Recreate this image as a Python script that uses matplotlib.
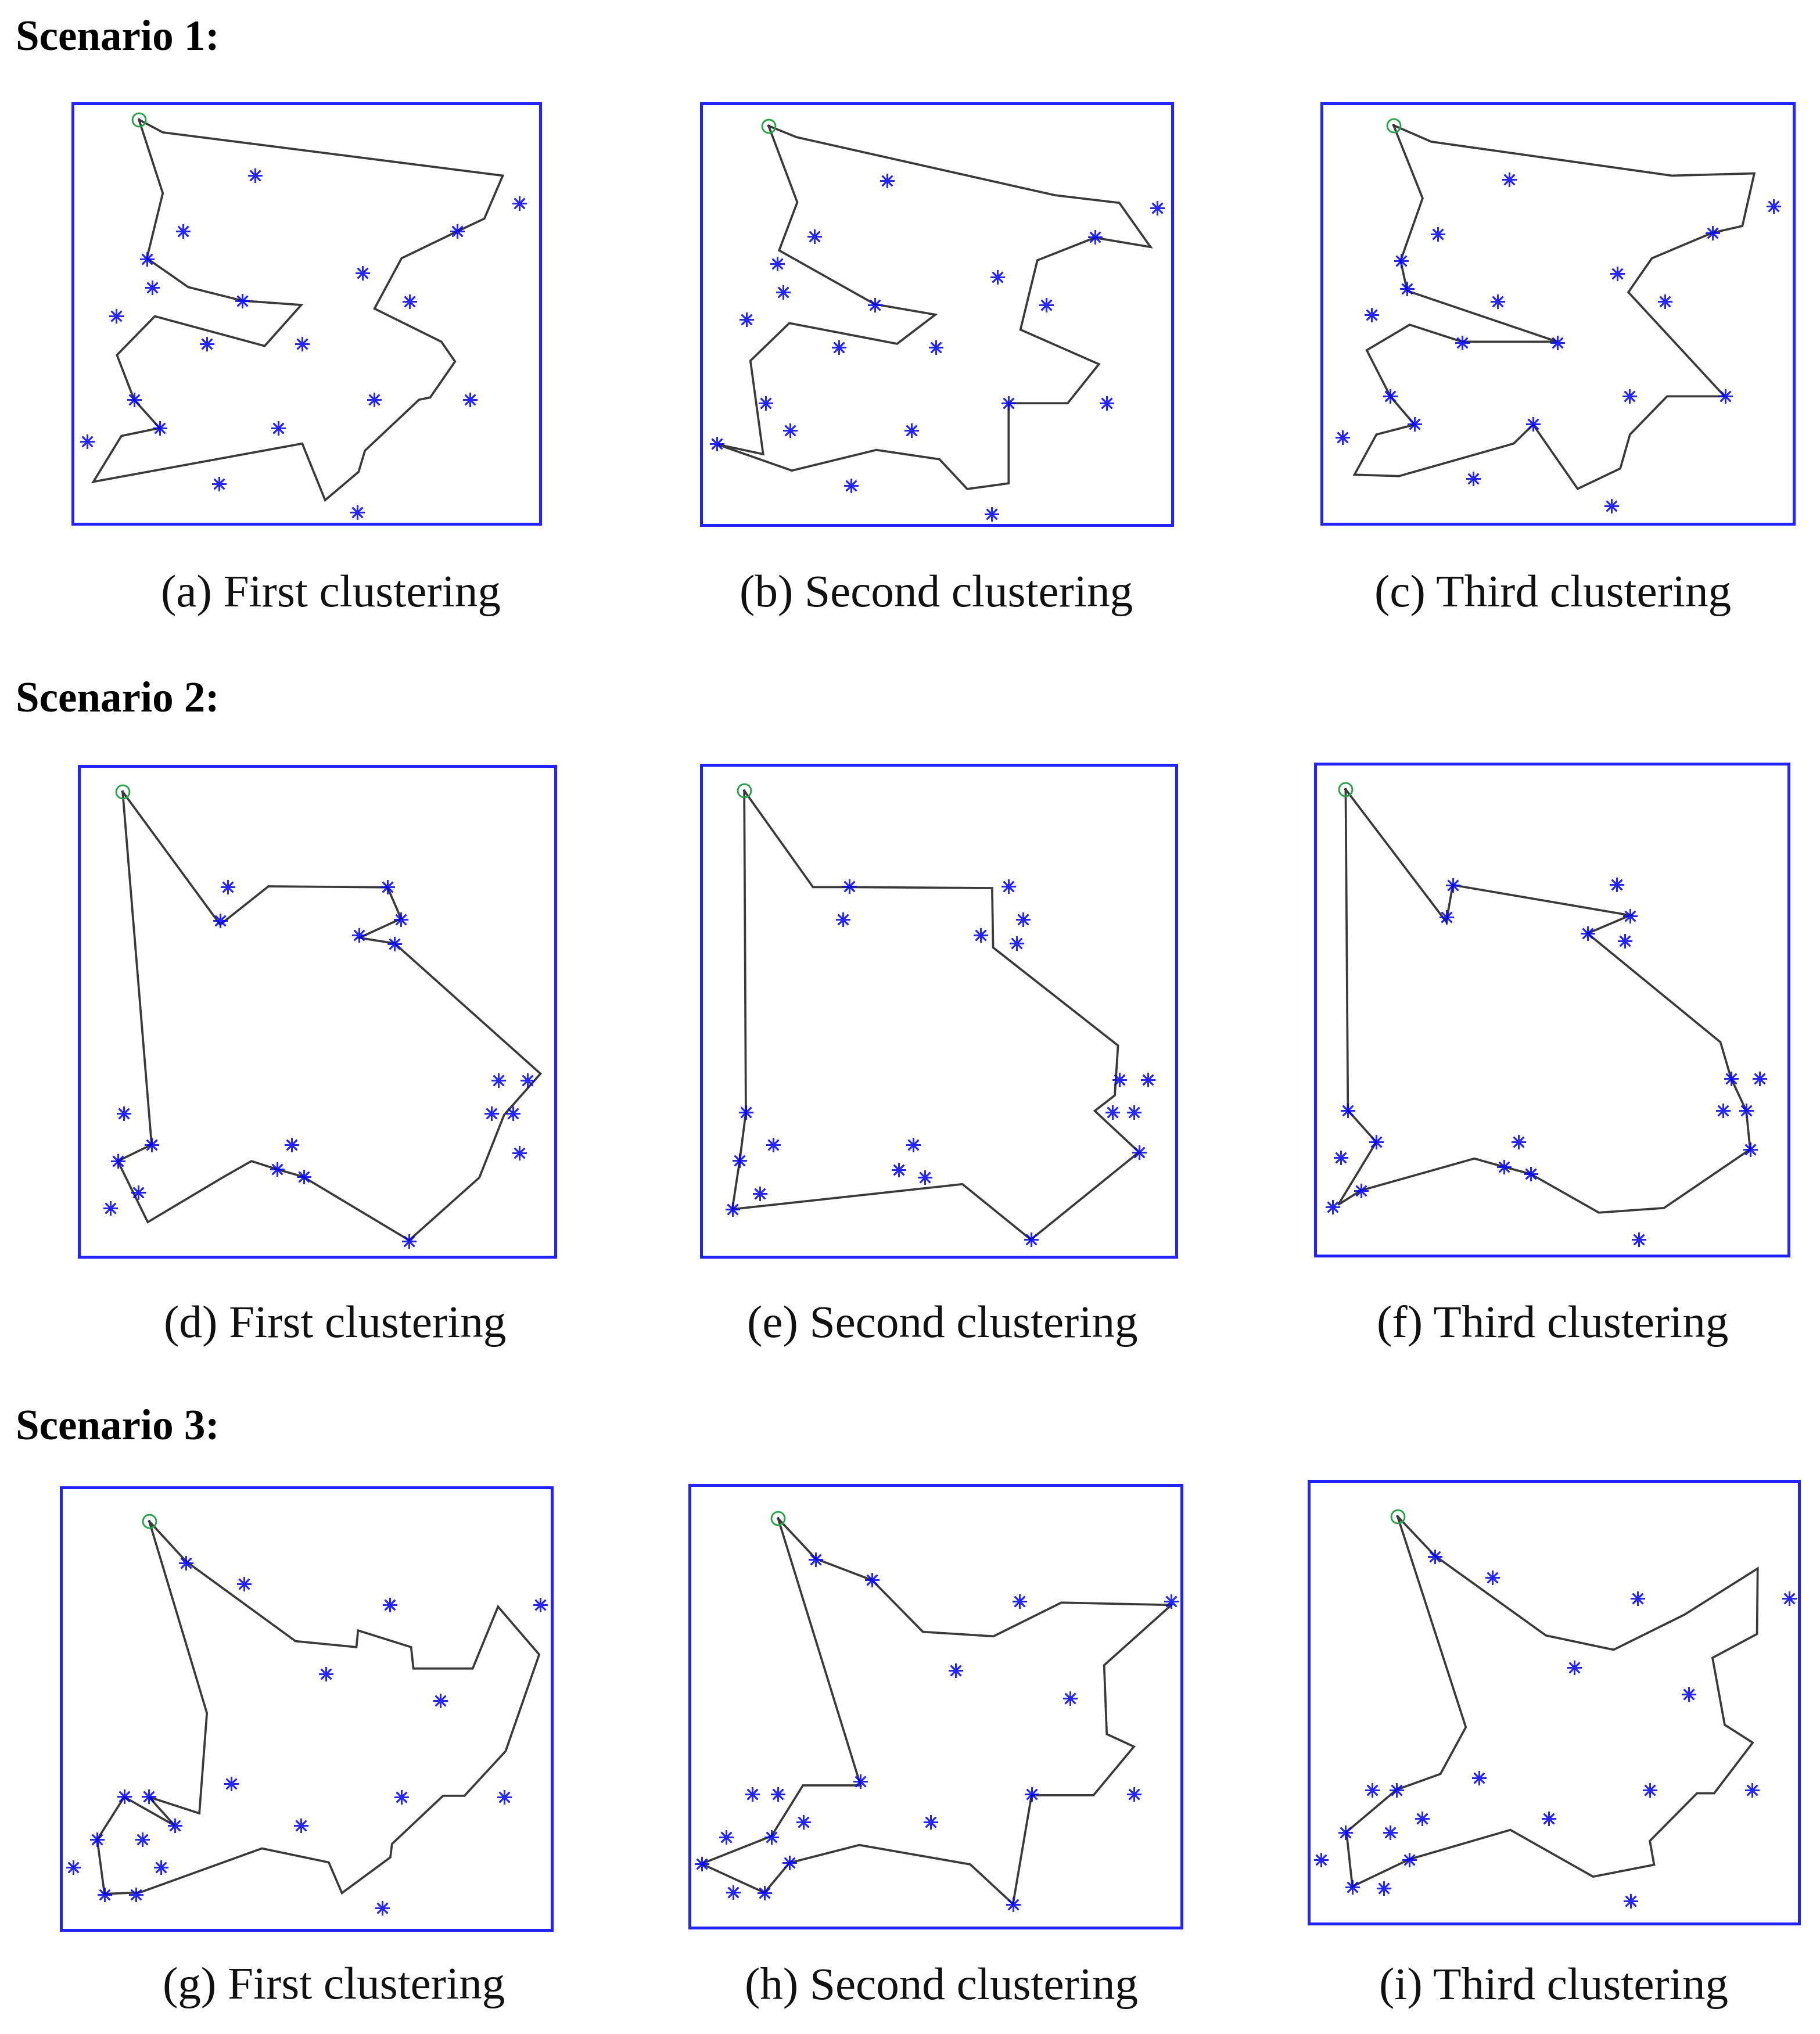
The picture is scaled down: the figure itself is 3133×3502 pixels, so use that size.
import matplotlib.pyplot as plt
import numpy as np

# Coordinates are read off each panel of the picture (x to the right,
# y downwards, in the units of the panel's own frame, see FRAMES below).

# ---- Scenario 1 -----------------------------------------------------------
A_ROUTE = [(255, 100), (330, 145), (1398, 298), (1340, 450), (1255, 495), (1080, 590),
           (995, 768), (1205, 885), (1248, 955), (1170, 1082), (1135, 1090), (965, 1270),
           (945, 1345), (840, 1445), (768, 1245), (112, 1380), (200, 1218), (320, 1190),
           (240, 1090), (186, 932), (305, 795), (650, 900), (765, 755), (580, 740),
           (410, 692), (280, 590), (330, 360)]
A_CUSTOMERS = [(620, 297), (1450, 395), (393, 495), (1255, 495), (280, 592), (957, 643),
               (297, 693), (580, 740), (1105, 742), (183, 793), (468, 892), (768, 892),
               (240, 1090), (993, 1090), (1295, 1090), (320, 1190), (693, 1190), (93, 1238),
               (507, 1388), (940, 1488)]

B_ROUTE = [(262, 120), (350, 160), (1160, 365), (1362, 392), (1460, 548), (1285, 515),
           (1105, 595), (1052, 840), (1298, 962), (1200, 1100), (1015, 1100), (1015, 1383),
           (885, 1403), (798, 1298), (600, 1265), (335, 1338), (100, 1245), (245, 1280),
           (205, 950), (327, 817), (665, 890), (785, 787), (595, 750), (295, 560),
           (352, 390)]
B_CUSTOMERS = [(633, 313), (1480, 410), (405, 510), (1285, 512), (290, 607), (980, 655),
               (307, 707), (595, 752), (1132, 753), (193, 803), (482, 903), (787, 903),
               (253, 1100), (1015, 1100), (1323, 1100), (330, 1195), (710, 1195), (100, 1243),
               (520, 1390), (962, 1492)]

C_ROUTE = [(268, 120), (385, 178), (1130, 298), (1385, 290), (1348, 476), (1255, 500),
           (1068, 590), (995, 710), (1293, 1078), (1115, 1078), (1000, 1213), (970, 1333),
           (838, 1405), (700, 1178), (640, 1245), (285, 1360), (147, 1355), (215, 1213),
           (333, 1178), (258, 1078), (185, 915), (318, 825), (480, 885), (775, 885),
           (310, 705), (290, 598), (358, 378)]
C_CUSTOMERS = [(627, 312), (1445, 405), (405, 505), (1255, 500), (292, 598), (960, 645),
               (310, 697), (590, 743), (1108, 743), (200, 790), (480, 888), (775, 888),
               (258, 1078), (998, 1078), (1295, 1078), (333, 1175), (700, 1175), (110, 1222),
               (515, 1368), (943, 1465)]

# ---- Scenario 2 -----------------------------------------------------------
D_ROUTE = [(180, 115), (483, 518), (633, 402), (1003, 405), (1045, 500), (915, 558),
           (1025, 575), (1478, 970), (1365, 1095), (1288, 1285), (1070, 1475), (740, 1282),
           (660, 1260), (580, 1235), (490, 1285), (258, 1420), (165, 1235), (270, 1185)]
D_CUSTOMERS = [(507, 403), (483, 505), (1003, 403), (1045, 502), (915, 550), (1025, 577),
               (1348, 990), (1437, 990), (1325, 1090), (1393, 1090), (183, 1090), (270, 1185),
               (705, 1185), (1412, 1210), (165, 1235), (660, 1260), (742, 1283), (228, 1330),
               (142, 1378), (1070, 1478)]

E_ROUTE = [(182, 110), (395, 402), (508, 402), (950, 405), (953, 585), (1340, 882),
           (1330, 1033), (1268, 1080), (1405, 1205), (1070, 1470), (858, 1302), (145, 1378),
           (168, 1230), (187, 1085)]
E_CUSTOMERS = [(508, 400), (1000, 400), (488, 500), (1045, 500), (915, 548), (1025, 572),
               (1345, 985), (1433, 985), (1322, 1085), (1390, 1085), (187, 1085), (272, 1182),
               (705, 1182), (1405, 1205), (168, 1230), (660, 1258), (742, 1282), (230, 1330),
               (145, 1378), (1070, 1470)]

F_ROUTE = [(138, 108), (450, 510), (470, 398), (1020, 490), (888, 545), (1300, 875),
           (1333, 985), (1380, 1083), (1392, 1200), (1125, 1378), (923, 1392), (712, 1275),
           (628, 1253), (537, 1228), (185, 1325), (115, 1368), (233, 1178), (145, 1082)]
F_CUSTOMERS = [(470, 398), (978, 397), (450, 495), (1020, 492), (888, 545), (1003, 568),
               (1333, 985), (1422, 985), (1308, 1083), (1380, 1083), (145, 1082), (233, 1178),
               (673, 1178), (1392, 1200), (123, 1225), (628, 1253), (712, 1275), (185, 1325),
               (98, 1375), (1047, 1473)]

# ---- Scenario 3 -----------------------------------------------------------
G_ROUTE = [(313, 155), (425, 290), (757, 558), (942, 578), (947, 522), (1108, 578),
           (1115, 650), (1295, 650), (1372, 442), (1497, 603), (1395, 928), (1270, 1078),
           (1205, 1078), (1050, 1240), (1045, 1285), (898, 1405), (858, 1302), (655, 1255),
           (285, 1403), (177, 1408), (155, 1225), (237, 1082), (390, 1178), (312, 1082),
           (465, 1137), (488, 800)]
G_CUSTOMERS = [(425, 295), (600, 365), (1043, 435), (1500, 435), (850, 668), (1197, 758),
               (562, 1038), (237, 1080), (312, 1080), (1078, 1082), (1390, 1082), (390, 1178),
               (773, 1178), (155, 1225), (292, 1225), (82, 1318), (348, 1318), (177, 1410),
               (272, 1410), (1020, 1455)]

H_ROUTE = [(318, 150), (432, 285), (602, 357), (755, 530), (968, 545), (1173, 432),
           (1505, 440), (1302, 642), (1310, 873), (1392, 915), (1270, 1078), (1083, 1078),
           (1027, 1443), (898, 1310), (563, 1245), (352, 1305), (277, 1405), (87, 1308),
           (298, 1215), (393, 1045), (567, 1045)]
H_CUSTOMERS = [(432, 288), (602, 355), (1047, 428), (1505, 428), (853, 660), (1200, 752),
               (567, 1032), (240, 1075), (317, 1075), (1083, 1075), (1392, 1075), (395, 1168),
               (778, 1168), (162, 1218), (298, 1218), (87, 1308), (352, 1305), (182, 1403),
               (277, 1405), (1027, 1445)]

I_ROUTE = [(310, 160), (423, 292), (760, 560), (965, 608), (1180, 490), (1402, 335),
           (1400, 555), (1265, 635), (1302, 860), (1387, 920), (1270, 1090), (1218, 1090),
           (1075, 1250), (1088, 1330), (903, 1370), (652, 1213), (345, 1312), (173, 1403),
           (155, 1220), (307, 1078), (440, 1025), (517, 868)]
I_CUSTOMERS = [(423, 295), (597, 365), (1038, 435), (1497, 435), (845, 668), (1192, 758),
               (557, 1038), (232, 1080), (307, 1080), (1075, 1080), (1385, 1080), (385, 1175),
               (768, 1175), (152, 1222), (288, 1222), (78, 1313), (345, 1313), (173, 1405),
               (268, 1408), (1017, 1452)]

SCENARIOS = ["Scenario 1:", "Scenario 2:", "Scenario 3:"]
CAPTIONS = ["(a) First clustering", "(b) Second clustering", "(c) Third clustering",
            "(d) First clustering", "(e) Second clustering", "(f) Third clustering",
            "(g) First clustering", "(h) Second clustering", "(i) Third clustering"]

ROUTES = [A_ROUTE, B_ROUTE, C_ROUTE, D_ROUTE, E_ROUTE, F_ROUTE, G_ROUTE, H_ROUTE, I_ROUTE]
CUSTOMERS = [A_CUSTOMERS, B_CUSTOMERS, C_CUSTOMERS, D_CUSTOMERS, E_CUSTOMERS,
             F_CUSTOMERS, G_CUSTOMERS, H_CUSTOMERS, I_CUSTOMERS]

# frame of each panel (x_left, x_right, y_top, y_bottom) in the same units as the data
FRAMES = [(47, 1515, 42, 1528), (50, 1528, 40, 1530), (45, 1508, 42, 1528),
          (45, 1525, 38, 1525), (48, 1520, 32, 1522), (43, 1512, 30, 1522),
          (45, 1535, 42, 1530), (50, 1535, 38, 1522), (40, 1528, 42, 1528)]

# layout, measured on a 1402 x 1568 copy of the figure
W, H = 1402.0, 1568.0
BOXES = [(56, 80, 416, 404), (540, 80, 903, 405), (1018, 80, 1382, 404),
         (61, 591, 428, 969), (540, 590, 906, 969), (1013, 589, 1378, 968),
         (47, 1147, 425, 1488), (531, 1145, 910, 1486), (1008, 1142, 1386, 1483)]
CAPTION_XY = [(255, 459), (721, 459), (1196, 459),
              (258, 1022), (726, 1022), (1196, 1022),
              (257, 1532), (725, 1532), (1197, 1532)]
SCENARIO_XY = [(12, 30), (12, 540), (12, 1101)]

BOX_BLUE = "#2323ff"
STAR_BLUE = "#0000ff"
ROUTE_GREY = "#3a3a3a"
DEPOT_GREEN = "#27a349"


def draw_panel(ax, route, customers, frame):
    route = np.asarray(route, dtype=float)
    customers = np.asarray(customers, dtype=float)
    loop = np.vstack((route, route[:1]))

    ax.plot(loop[:, 0], loop[:, 1], color=ROUTE_GREY, linewidth=0.9,
            solid_joinstyle="miter", zorder=2)
    ax.plot(customers[:, 0], customers[:, 1], linestyle="none", marker=(8, 2, 0),
            markersize=6, markeredgewidth=0.65, color=STAR_BLUE, alpha=0.85,
            clip_on=False, zorder=3)
    ax.plot(route[0, 0], route[0, 1], linestyle="none", marker="o", markersize=5.5,
            markerfacecolor="none", markeredgecolor=DEPOT_GREEN, markeredgewidth=0.7,
            zorder=4)

    x0, x1, y0, y1 = frame
    ax.set_xlim(x0, x1)
    ax.set_ylim(y1, y0)
    ax.set_xticks([])
    ax.set_yticks([])
    for spine in ax.spines.values():
        spine.set_color(BOX_BLUE)
        spine.set_linewidth(1.2)


def main():
    plt.rcParams["font.family"] = ["Liberation Serif", "DejaVu Serif"]
    fig = plt.figure(figsize=(3133 / 300, 3503 / 300), dpi=300)
    fig.patch.set_facecolor("white")

    for k in range(9):
        bx0, by0, bx1, by1 = BOXES[k]
        ax = fig.add_axes([bx0 / W, 1 - by1 / H, (bx1 - bx0) / W, (by1 - by0) / H])
        draw_panel(ax, ROUTES[k], CUSTOMERS[k], FRAMES[k])
        cx, cy = CAPTION_XY[k]
        fig.text(cx / W, 1 - cy / H, CAPTIONS[k], ha="center", va="center",
                 fontsize=19, color="#111111")

    for label, (sx, sy) in zip(SCENARIOS, SCENARIO_XY):
        fig.text(sx / W, 1 - sy / H, label, ha="left", va="center",
                 fontsize=17.5, fontweight="bold", color="#000000")

    fig.savefig("out.png", dpi=300, facecolor="white")


if __name__ == "__main__":
    main()
